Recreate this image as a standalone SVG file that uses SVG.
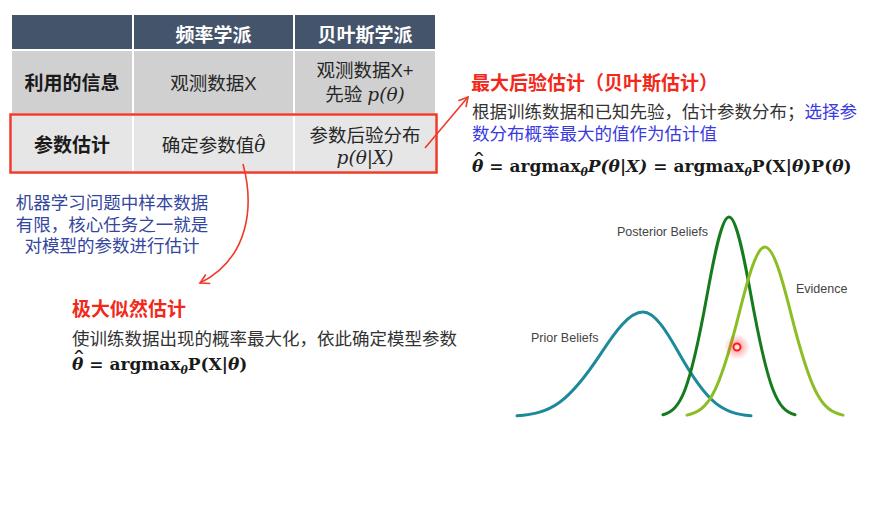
<svg xmlns="http://www.w3.org/2000/svg" width="886" height="505" viewBox="0 0 886 505">
  <style>
    .cjk { font-family: "Liberation Sans", "Noto Sans CJK SC", sans-serif; }
    .hd { font-size: 19px; font-weight: bold; fill: #ffffff; text-anchor: middle; }
    .lbl { font-size: 19px; font-weight: bold; fill: #1a1a1a; text-anchor: middle; }
    .cell { font-size: 18.5px; fill: #262626; text-anchor: middle; }
    .mi { font-family: "DejaVu Serif", "Liberation Serif", serif; font-style: italic; }
    .title { font-size: 19px; font-weight: bold; fill: #f2291a; }
    .body { font-size: 17.5px; fill: #333333; }
    .blue { fill: #3a3ae0; }
    .note { font-size: 17.5px; fill: #34469e; text-anchor: middle; }
    .eq { font-family: "DejaVu Serif", "Liberation Serif", serif; font-weight: bold; font-size: 17px; fill: #1a1a1a; }
    .it { font-style: italic; }
    .hat { font-family: "DejaVu Serif", "Liberation Serif", serif; fill: #1a1a1a; text-anchor: middle; }
    .chartlbl { font-family: "Liberation Sans", Arial, sans-serif; font-size: 12.5px; fill: #444444; }
    .curve { fill: none; stroke-width: 3; stroke-linecap: round; }
    .link { fill: none; stroke: #ef3a2a; stroke-width: 1.6; }
  </style>
  <defs>
    <marker id="arrow" viewBox="0 0 12 12" refX="10" refY="6" markerWidth="12" markerHeight="12" markerUnits="userSpaceOnUse" orient="auto">
      <polyline points="1,1 10,6 1,11" fill="none" stroke="#ef3a2a" stroke-width="1.6"/>
    </marker>
    <radialGradient id="glow">
      <stop offset="0" stop-color="#ff2020" stop-opacity="0.5"/>
      <stop offset="1" stop-color="#ff2020" stop-opacity="0"/>
    </radialGradient>
  </defs>

  <rect width="886" height="505" fill="#ffffff"/>

  <!-- comparison table -->
  <g id="table">
    <rect x="12" y="15" width="120" height="34" fill="#44546a"/>
    <rect x="134" y="15" width="159" height="34" fill="#44546a"/>
    <rect x="295" y="15" width="140" height="34" fill="#44546a"/>
    <rect x="12" y="51" width="120" height="62" fill="#d0d0d0"/>
    <rect x="134" y="51" width="159" height="62" fill="#d0d0d0"/>
    <rect x="295" y="51" width="140" height="62" fill="#d0d0d0"/>
    <rect x="12" y="116" width="120" height="55" fill="#e6e6e6"/>
    <rect x="134" y="116" width="159" height="55" fill="#e6e6e6"/>
    <rect x="295" y="116" width="140" height="55" fill="#e6e6e6"/>

    <text class="cjk hd" x="213.5" y="42">频率学派</text>
    <text class="cjk hd" x="365" y="42">贝叶斯学派</text>

    <text class="cjk lbl" x="72" y="90">利用的信息</text>
    <text class="cjk cell" x="213.5" y="90">观测数据X</text>
    <text class="cjk cell" x="365" y="77">观测数据X+</text>
    <text class="cjk cell" x="365" y="101">先验 <tspan class="mi">p(θ)</tspan></text>

    <text class="cjk lbl" x="72" y="152">参数估计</text>
    <text class="cjk cell" x="213.5" y="152">确定参数值<tspan class="mi">θ</tspan></text>
    <text class="hat" x="260" y="147" font-size="17">ˆ</text>
    <text class="cjk cell" x="365" y="142">参数后验分布</text>
    <text class="cjk cell" x="365" y="164"><tspan class="mi">p(θ|X)</tspan></text>
  </g>

  <!-- highlight around the estimation row -->
  <g id="row-highlight">
    <rect x="10.5" y="114.5" width="426" height="58" fill="none" stroke="#ef3a2a" stroke-width="2.5"/>
  </g>

  <!-- maximum a posteriori note -->
  <g id="map-note">
    <text class="cjk title" x="471" y="90">最大后验估计（贝叶斯估计）</text>
    <text class="cjk body" x="472" y="118">根据训练数据和已知先验，估计参数分布；<tspan class="blue">选择参</tspan></text>
    <text class="cjk body blue" x="472" y="140">数分布概率最大的值作为估计值</text>
    <text class="eq" x="472" y="172"><tspan class="it">θ</tspan> = argmax<tspan class="it" font-size="11" dy="4">θ</tspan><tspan class="it" dy="-4">P(θ|X)</tspan> = argmax<tspan class="it" font-size="11" dy="4">θ</tspan><tspan dy="-4">P(X|</tspan><tspan class="it">θ</tspan>)P(<tspan class="it">θ</tspan>)</text>
    <text class="hat" x="479" y="170" font-size="22" transform="translate(479 0) scale(1.3 1) translate(-479 0)">ˆ</text>
  </g>

  <!-- data note -->
  <g id="data-note">
    <text class="cjk note" x="112" y="209">机器学习问题中样本数据</text>
    <text class="cjk note" x="112" y="231">有限，核心任务之一就是</text>
    <text class="cjk note" x="112" y="252">对模型的参数进行估计</text>
  </g>

  <!-- maximum likelihood note -->
  <g id="mle-note">
    <text class="cjk title" x="72" y="316">极大似然估计</text>
    <text class="cjk body" x="72" y="345">使训练数据出现的概率最大化，依此确定模型参数</text>
    <text class="eq" x="72" y="370"><tspan class="it">θ</tspan> = argmax<tspan class="it" font-size="11" dy="4">θ</tspan><tspan dy="-4">P(X|</tspan><tspan class="it">θ</tspan>)</text>
    <text class="hat" x="79" y="368" font-size="22" transform="translate(79 0) scale(1.3 1) translate(-79 0)">ˆ</text>
  </g>

  <!-- prior / evidence / posterior curves -->
  <g id="chart">
    <path class="curve" stroke="#1d8a9a" d="M517,415.8 C550.6,413.1 567.4,404.3 601,353.3 C615,332.1 629,312 643,312 C655,312 667,332.1 679,353.3 C707.8,404.3 722.2,413.1 751,415.8"/>
    <path class="curve" stroke="#167a1e" d="M663,414.8 C680.6,409.6 689.4,392.8 707,295.6 C714.3,255.2 721.7,217 729,217 C736.3,217 743.7,255.2 751,295.6 C768.6,392.8 777.4,409.6 795,414.8"/>
    <path class="curve" stroke="#8cbd24" d="M687,415.1 C707.8,410.7 718.2,396.4 739,313.8 C747.7,279.5 756.3,247 765,247 C773.7,247 782.3,279.5 791,313.8 C811.8,396.4 822.2,410.7 843,415.1"/>
    <text class="chartlbl" x="617" y="236">Posterior Beliefs</text>
    <text class="chartlbl" x="796" y="293">Evidence</text>
    <text class="chartlbl" x="531" y="342">Prior Beliefs</text>
    <circle cx="737" cy="347" r="13" fill="url(#glow)"/>
    <circle cx="737" cy="347" r="3.5" fill="#ffe0e0" stroke="#ff1a1a" stroke-width="2"/>
  </g>

  <!-- connectors -->
  <g id="connectors">
    <path class="link" d="M425,148 L468,97" marker-end="url(#arrow)"/>
    <path class="link" d="M243,164 C254,205 250,258 200,283" marker-end="url(#arrow)"/>
  </g>
</svg>
